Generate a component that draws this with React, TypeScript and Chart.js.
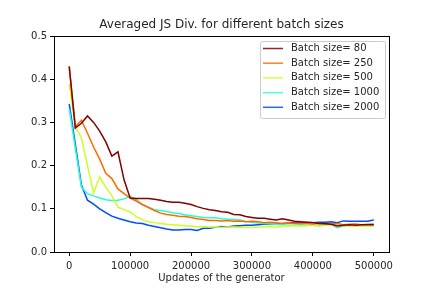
import React, { useEffect, useRef } from "react";
import { Chart, registerables } from "chart.js";

Chart.register(...registerables);

const steps: number[] = [];
for (let i = 0; i <= 50; i++) steps.push(i * 10000);

const xTicks = [0, 100000, 200000, 300000, 400000, 500000];
const yTicks = [0, 0.1, 0.2, 0.3, 0.4, 0.5];

const seriesLabels = ["Batch size= 80", "Batch size= 250", "Batch size= 500", "Batch size= 1000", "Batch size= 2000"];

const batch80 = [0.43, 0.287, 0.298, 0.315, 0.3, 0.28, 0.255, 0.222, 0.232, 0.167, 0.125, 0.124, 0.124, 0.124, 0.122, 0.12, 0.117, 0.115, 0.115, 0.113, 0.11, 0.105, 0.101, 0.098, 0.096, 0.093, 0.092, 0.087, 0.086, 0.082, 0.08, 0.078, 0.078, 0.076, 0.074, 0.077, 0.074, 0.071, 0.07, 0.069, 0.068, 0.066, 0.066, 0.064, 0.06, 0.062, 0.063, 0.062, 0.063, 0.063, 0.063];
const batch250 = [0.428, 0.29, 0.305, 0.275, 0.243, 0.215, 0.182, 0.17, 0.146, 0.135, 0.125, 0.118, 0.11, 0.103, 0.096, 0.09, 0.087, 0.085, 0.083, 0.082, 0.08, 0.077, 0.075, 0.073, 0.073, 0.072, 0.073, 0.071, 0.072, 0.07, 0.071, 0.07, 0.068, 0.069, 0.068, 0.066, 0.067, 0.066, 0.066, 0.066, 0.065, 0.066, 0.064, 0.065, 0.066, 0.063, 0.064, 0.065, 0.063, 0.064, 0.065];
const batch500 = [0.389, 0.29, 0.264, 0.2, 0.137, 0.174, 0.15, 0.13, 0.104, 0.098, 0.093, 0.082, 0.075, 0.07, 0.068, 0.066, 0.064, 0.063, 0.062, 0.061, 0.06, 0.058, 0.059, 0.058, 0.058, 0.057, 0.058, 0.058, 0.057, 0.058, 0.057, 0.058, 0.058, 0.059, 0.058, 0.06, 0.06, 0.061, 0.06, 0.061, 0.062, 0.061, 0.063, 0.062, 0.062, 0.061, 0.06, 0.061, 0.06, 0.061, 0.06];
const batch1000 = [0.331, 0.24, 0.15, 0.135, 0.13, 0.125, 0.121, 0.119, 0.12, 0.123, 0.129, 0.122, 0.11, 0.104, 0.098, 0.096, 0.094, 0.091, 0.089, 0.086, 0.084, 0.082, 0.08, 0.079, 0.079, 0.077, 0.076, 0.075, 0.074, 0.071, 0.069, 0.067, 0.066, 0.065, 0.064, 0.063, 0.062, 0.062, 0.063, 0.062, 0.062, 0.061, 0.062, 0.064, 0.056, 0.06, 0.062, 0.061, 0.062, 0.061, 0.061];
const batch2000 = [0.343, 0.25, 0.155, 0.12, 0.111, 0.1, 0.091, 0.083, 0.078, 0.074, 0.07, 0.067, 0.066, 0.062, 0.059, 0.056, 0.053, 0.051, 0.051, 0.052, 0.052, 0.05, 0.055, 0.055, 0.057, 0.059, 0.058, 0.06, 0.061, 0.062, 0.062, 0.063, 0.064, 0.064, 0.065, 0.066, 0.067, 0.068, 0.067, 0.068, 0.068, 0.069, 0.069, 0.07, 0.068, 0.072, 0.071, 0.071, 0.071, 0.071, 0.074];

const seriesValues = [batch80, batch250, batch500, batch1000, batch2000];
const seriesColors = ["#800000", "#ff6a00", "#ccff2a", "#2affcc", "#004cff"];

const FONT = "'DejaVu Sans', sans-serif";
const TEXT = "#262626";

const framePlugin = {
  id: "frame",
  afterDraw(chart: any) {
    const { ctx, chartArea } = chart;
    const { left, right, top, bottom } = chartArea;
    ctx.save();
    ctx.strokeStyle = "#000";
    ctx.lineWidth = 1;
    ctx.strokeRect(Math.round(left) + 0.5, Math.round(top) + 0.5, Math.round(right - left), Math.round(bottom - top));
    ctx.fillStyle = TEXT;
    ctx.font = `12px ${FONT}`;
    ctx.textAlign = "center";
    ctx.textBaseline = "bottom";
    ctx.fillText("Averaged JS Div. for different batch sizes", (left + right) / 2, top - 5);
    const lx = 260, ly = 41, lw = 125, lh = 77;
    ctx.fillStyle = "rgba(255,255,255,0.8)";
    ctx.strokeStyle = "#cccccc";
    ctx.lineWidth = 1;
    ctx.beginPath();
    if (ctx.roundRect) ctx.roundRect(lx + 0.5, ly + 0.5, lw, lh, 2);
    else ctx.rect(lx + 0.5, ly + 0.5, lw, lh);
    ctx.fill();
    ctx.stroke();
    ctx.font = `10px ${FONT}`;
    ctx.textAlign = "left";
    ctx.textBaseline = "middle";
    chart.data.datasets.forEach((ds: any, i: number) => {
      const y = ly + 7.5 + i * 14.7;
      ctx.strokeStyle = ds.borderColor;
      ctx.globalAlpha = 0.85;
      ctx.lineWidth = 1.5;
      ctx.beginPath();
      ctx.moveTo(lx + 3, y);
      ctx.lineTo(lx + 23, y);
      ctx.stroke();
      ctx.globalAlpha = 1;
      ctx.fillStyle = TEXT;
      ctx.fillText(ds.label, lx + 31, y);
    });
    ctx.restore();
  },
};

export default function App() {
  const ref = useRef<HTMLCanvasElement>(null);
  useEffect(() => {
    if (!ref.current) return;
    const chart = new Chart(ref.current, {
      type: "line",
      data: {
        datasets: seriesValues.map((vals, i) => ({
          label: seriesLabels[i],
          data: steps.map((s, j) => ({ x: s, y: vals[j] })),
          borderColor: seriesColors[i],
          backgroundColor: seriesColors[i],
          borderWidth: 1.5,
          pointRadius: 0,
          tension: 0,
          fill: false,
        })),
      },
      options: {
        responsive: false,
        animation: false,
        layout: { padding: { top: 36, right: 43, left: 0, bottom: 0 } },
        plugins: { legend: { display: false }, tooltip: { enabled: false }, title: { display: false } },
        scales: {
          x: {
            type: "linear",
            min: -25000,
            max: 525000,
            afterBuildTicks: (scale: any) => {
              scale.ticks = xTicks.map((v) => ({ value: v }));
            },
            afterFit: (scale: any) => {
              scale.height = 36;
            },
            grid: { drawOnChartArea: false, drawTicks: true, tickLength: 4, color: "#000" },
            border: { display: true, color: "#000" },
            ticks: {
              color: TEXT,
              font: { family: FONT, size: 10 },
              padding: 4,
              maxRotation: 0,
              callback: (v: any) => String(v),
            },
            title: {
              display: true,
              text: "Updates of the generator",
              color: TEXT,
              font: { family: FONT, size: 10 },
              padding: { top: 1, bottom: 4 },
            },
          },
          y: {
            type: "linear",
            min: 0,
            max: 0.5,
            afterBuildTicks: (scale: any) => {
              scale.ticks = yTicks.map((v) => ({ value: v }));
            },
            afterFit: (scale: any) => {
              scale.width = 54;
            },
            grid: { drawOnChartArea: false, drawTicks: true, tickLength: 4, color: "#000" },
            border: { display: true, color: "#000" },
            ticks: {
              color: TEXT,
              font: { family: FONT, size: 10 },
              padding: 3,
              callback: (v: any) => Number(v).toFixed(1),
            },
          },
        },
      },
      plugins: [framePlugin],
    });
    return () => chart.destroy();
  }, []);
  return (
    <div style={{ position: "absolute", left: 0, top: 0, width: 432, height: 288, background: "#fff" }}>
      <canvas ref={ref} width={432} height={288} style={{ display: "block" }} />
    </div>
  );
}
